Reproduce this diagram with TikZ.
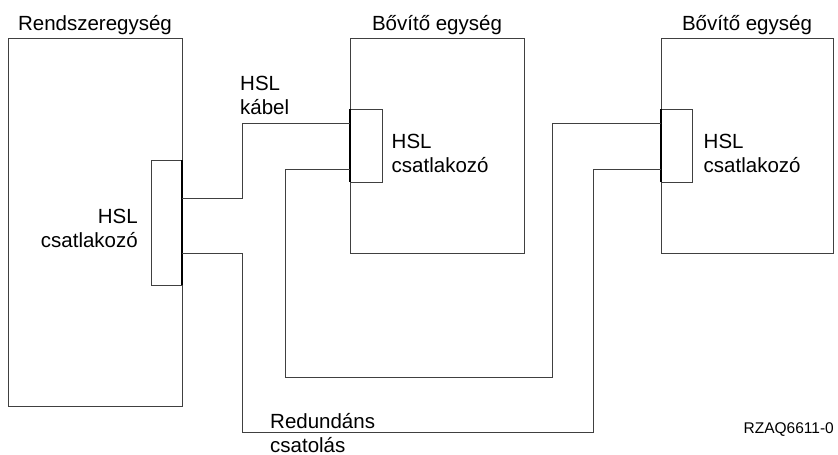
\documentclass[tikz,border=0pt]{standalone}
\usepackage{fontspec}
\setmainfont{Liberation Sans}

\begin{document}
\begin{tikzpicture}[
    x=1pt, y=-1pt,
    lbl/.style={font=\fontsize{20.5}{24}\selectfont, inner sep=0pt},
    tag/.style={font=\fontsize{15.5}{18}\selectfont, inner sep=0pt},
    unit/.style={draw=black!75, line width=1pt, inner sep=0pt, outer sep=0pt, anchor=north west},
    cable/.style={draw=black!75, line width=1pt},
    edge/.style={line width=2pt}
]
\useasboundingbox (0,0) rectangle (838,455);

\node[unit, minimum width=174pt, minimum height=368pt] (sys) at (8,38) {};
\node[unit, minimum width=174pt, minimum height=215pt] (exp1) at (350,38) {};
\node[unit, minimum width=172pt, minimum height=215pt] (exp2) at (661,38) {};

\node[unit, minimum width=31pt, minimum height=125pt] (sysport) at (151,160) {};
\node[unit, minimum width=32pt, minimum height=73pt] (port1) at (350,109) {};
\node[unit, minimum width=31pt, minimum height=73pt] (port2) at (661,109) {};
\draw[edge] (sysport.north east) -- (sysport.south east);
\draw[edge] (port1.north west) -- (port1.south west);
\draw[edge] (port2.north west) -- (port2.south west);

\draw[cable] (sysport.east |- 0,198) -| (242,123) -- (port1.west |- 0,123);
\draw[cable] (port1.west |- 0,169) -| (285,377) -| (552,123) -- (port2.west |- 0,123);
\draw[cable] (sysport.east |- 0,253) -| (242,432) -| (593,169) -- (port2.west |- 0,169);

\node[lbl, anchor=base] (systitle) at (sys.north |- 0,30) {Rendszeregység};
\node[lbl, anchor=base] (exp1title) at (exp1.north |- 0,30) {Bővítő egység};
\node[lbl, anchor=base] (exp2title) at (exp2.north |- 0,30) {Bővítő egység};
\node[lbl, anchor=base east, align=right] (syslbl) at (138,247) {HSL\\csatlakozó};
\node[lbl, anchor=base west, align=left] (lbl1) at (391.5,172) {HSL\\csatlakozó};
\node[lbl, anchor=base west, align=left] (lbl2) at (703.5,172) {HSL\\csatlakozó};
\node[lbl, anchor=base west, align=left] (cablelbl) at (240,114) {HSL\\kábel};
\node[lbl, anchor=base west, align=left] (redlbl) at (270,452) {Redundáns\\csatolás};
\node[tag, anchor=base east] (code) at (834,433.5) {RZAQ6611-0};

\end{tikzpicture}
\end{document}
